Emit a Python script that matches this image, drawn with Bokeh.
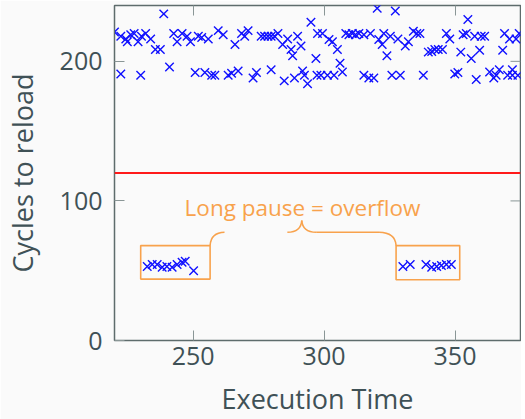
import math
from bokeh.plotting import figure
from bokeh.models import Range1d, LinearAxis, FixedTicker, Span
from bokeh.core.properties import value
from bokeh.embed import file_html
from bokeh.resources import INLINE

# ---- data ----
hi_x = [220, 222.4, 222.4, 224.3, 224.9, 226.2, 227.5, 229, 230, 230.3, 231.9, 233.8, 235.6, 237.5,
        238.8, 241, 242.6, 243.9, 245.8, 247.7, 249, 250.8, 252, 253.3, 254.5, 255.8, 257.1, 258.3,
        259.6, 261.5, 263.4, 264.7, 266, 267.2, 268.5, 269.7, 271, 272.9, 274.2, 276, 277.3, 278.6,
        279.8, 281.1, 282.4, 279.8, 284.2, 284.8, 286.1, 287.4, 288, 288.7, 289.9, 291.2, 291.8,
        292.5, 293.7, 295, 296.9, 297.5, 297.3, 298.8, 299.4, 301.3, 301.9, 303.2, 303.8, 305.1,
        306.1, 307, 308.3, 309.5, 310.8, 312, 313.3, 315.2, 315.2, 317.1, 317.7, 319, 320.3, 320.9,
        322.2, 322.8, 324, 325.3, 325.9, 327.2, 328.2, 329.1, 331, 332.2, 334.1, 335.4, 336.6, 337.9,
        339.8, 341.1, 342.3, 343.6, 345.2, 346.7, 348, 349.9, 351.1, 352.2, 353.1, 354.3, 354.9,
        356.2, 357.5, 358.1, 359.4, 360, 361.3, 363.2, 364.8, 365.7, 366.9, 368.2, 368.9, 370.1,
        370.8, 371.9, 371.9, 373.3, 374, 374.5]
hi_y = [221, 218, 191, 216, 214, 219, 220, 214, 190, 218, 220, 216, 208.5, 208.5,
        234, 196, 220, 214, 220, 218, 214, 192, 218, 217, 192, 216, 190, 190,
        222, 219, 190, 191.5, 212, 193, 220, 218, 222, 188, 192, 218, 218, 218,
        218, 218, 220, 194, 212, 186, 216, 208.5, 204, 188, 218, 211, 193,
        190, 184, 228, 202, 220, 190, 190, 220, 190, 215.6, 214, 190, 208.5,
        198.6, 192.4, 220, 219, 220, 219, 220, 219, 190, 188, 220, 188, 238, 215.6,
        212, 220, 204, 218, 190, 236, 216, 190, 211, 214, 221.5, 220, 220, 190,
        206.6, 207, 208.5, 208.5, 208.5, 220, 216, 191, 192, 206.6, 219, 220, 230,
        202, 218, 187, 208, 218, 218, 192.4, 188, 190, 194, 208, 220, 190,
        216, 194, 190, 216, 190, 220]

lo_x = [232.5, 234.4, 236.3, 238.2, 240, 242, 243.9, 245.8, 247, 250.2,
        330.1, 332.9, 338.9, 341.1, 343, 344.8, 346.7, 348.6]
lo_y = [53, 54.4, 54.4, 52.5, 53, 52.5, 54.4, 56, 56.7, 50,
        53, 54.4, 54.4, 52.5, 53, 53.7, 54.4, 54.4]

threshold = 120
x_lim = (220, 375)
y_lim = (0, 240)
x_ticks = [250, 300, 350]
y_ticks = [0, 100, 200]

# annotation geometry (data units)
box_left = [230, 327.5]
box_right = [256.5, 351.8]
box_bottom = [44, 43.5]
box_top = [68, 68]
brace_x0 = [256.5, 286, 291.5, 297, 321]
brace_y0 = [68, 77.5, 86, 77.5, 77.5]
brace_x1 = [262, 291.5, 297, 321, 327.5]
brace_y1 = [77.5, 86, 77.5, 77.5, 68]
brace_cx = [256.8, 291.2, 291.8, 309, 327.2]
brace_cy = [77.3, 77.7, 77.7, 77.5, 77.3]
note_text = ["Long pause = overflow"]
note_x = [291.8]
note_y = [95]

TXT = "#3f5156"
AX = "#5e6c6c"
TICK = "#8a9696"
ORANGE = "#f8a24c"
BG = "#fafafa"
FONT = "Open Sans"

p = figure(width=521, height=419, output_backend="svg", toolbar_location=None,
           x_range=Range1d(*x_lim), y_range=Range1d(*y_lim),
           min_border_left=106, min_border_right=1, min_border_top=5, min_border_bottom=75,
           background_fill_color=BG, border_fill_color=BG)
p.grid.visible = False
p.outline_line_color = AX
p.outline_line_width = 1.5

for ax in (p.xaxis[0], p.yaxis[0]):
    ax.major_tick_in = 10
    ax.major_tick_out = 0
    ax.minor_tick_line_color = None
    ax.axis_line_color = AX
    ax.major_tick_line_color = TICK
    ax.major_label_text_font = FONT
    ax.major_label_text_font_size = "25px"
    ax.major_label_text_color = TXT
    ax.axis_label_text_font = FONT
    ax.axis_label_text_font_size = "27px"
    ax.axis_label_text_font_style = "normal"
    ax.axis_label_text_color = TXT

p.xaxis.ticker = FixedTicker(ticks=x_ticks)
p.yaxis.ticker = FixedTicker(ticks=y_ticks)
p.xaxis.axis_label = "Execution Time"
p.yaxis.axis_label = "Cycles to reload"
p.xaxis.major_label_standoff = 6
p.xaxis.axis_label_standoff = 12
p.yaxis.major_label_standoff = 12
p.yaxis.axis_label_standoff = 16

# mirrored ticks on the top edge
top = LinearAxis(ticker=FixedTicker(ticks=x_ticks))
top.major_tick_in = 10
top.major_tick_out = 0
top.minor_tick_line_color = None
top.axis_line_color = None
top.major_tick_line_color = TICK
top.major_label_text_font_size = "1px"
top.major_label_text_color = None
top.major_label_standoff = 0
top.axis_label_standoff = 0
p.add_layout(top, "above")

# mirrored ticks on the right edge (inward, 10 px long)
p.ray(x=[x_lim[1]] * len(y_ticks), y=y_ticks, length=10, length_units="screen",
      angle=math.pi, line_color=TICK, line_width=1)

p.add_layout(Span(location=threshold, dimension="width", line_color="#ff1a1a", line_width=2))

p.scatter(hi_x, hi_y, marker="x", size=12, line_color="#1010ff", line_width=1.4)
p.scatter(lo_x, lo_y, marker="x", size=12, line_color="#1010ff", line_width=1.4)

p.quad(left=box_left, right=box_right, bottom=box_bottom, top=box_top,
       fill_color=None, line_color=ORANGE, line_width=1.6)
p.quadratic(x0=brace_x0, y0=brace_y0, x1=brace_x1, y1=brace_y1, cx=brace_cx, cy=brace_cy,
            line_color=ORANGE, line_width=1.6)
p.text(x=note_x, y=note_y, text=note_text, text_align="center", text_baseline="alphabetic",
       text_font=value(FONT), text_font_size="22.5px", text_color=ORANGE)

open("out.html", "w").write(file_html(p, INLINE))
